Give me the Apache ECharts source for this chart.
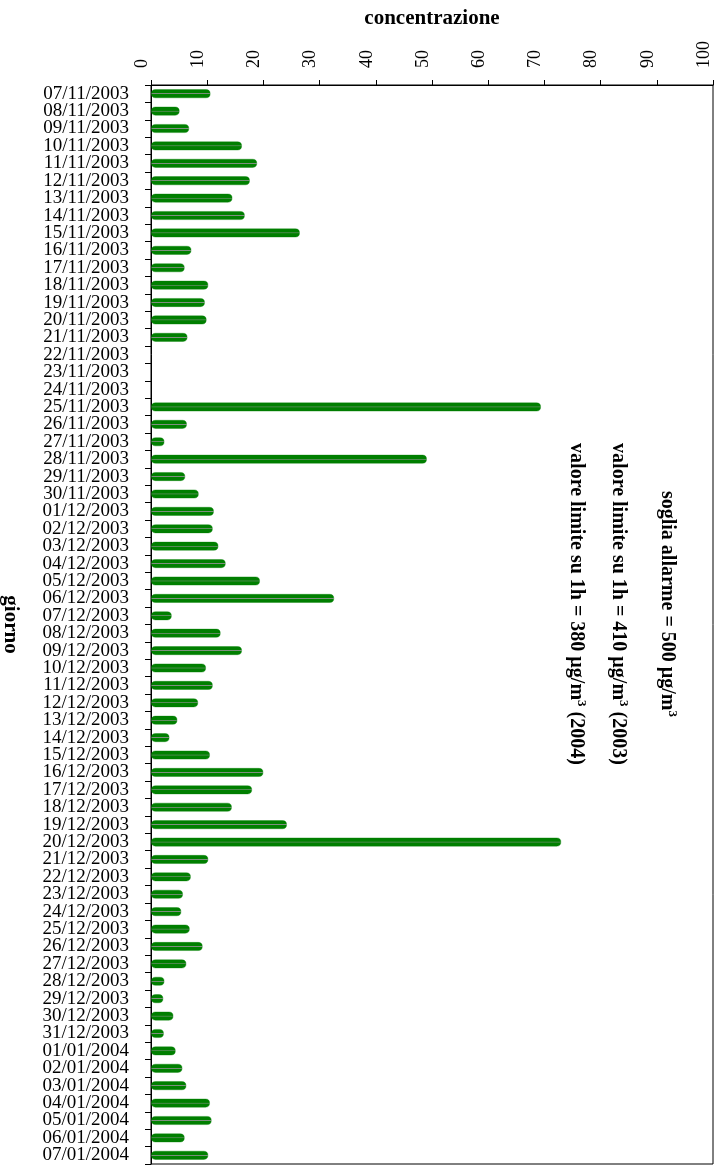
<!DOCTYPE html>
<html>
<head>
<meta charset="utf-8">
<script src="https://cdn.jsdelivr.net/npm/echarts@6/dist/echarts.min.js"></script>
<style>
html,body{margin:0;padding:0;background:#fff;}
#chart{width:725px;height:1169px;}
</style>
</head>
<body>
<div id="chart"></div>
<script>
var categories = [
  '07/11/2003','08/11/2003','09/11/2003','10/11/2003','11/11/2003','12/11/2003','13/11/2003',
  '14/11/2003','15/11/2003','16/11/2003','17/11/2003','18/11/2003','19/11/2003','20/11/2003',
  '21/11/2003','22/11/2003','23/11/2003','24/11/2003','25/11/2003','26/11/2003','27/11/2003',
  '28/11/2003','29/11/2003','30/11/2003','01/12/2003','02/12/2003','03/12/2003','04/12/2003',
  '05/12/2003','06/12/2003','07/12/2003','08/12/2003','09/12/2003','10/12/2003','11/12/2003',
  '12/12/2003','13/12/2003','14/12/2003','15/12/2003','16/12/2003','17/12/2003','18/12/2003',
  '19/12/2003','20/12/2003','21/12/2003','22/12/2003','23/12/2003','24/12/2003','25/12/2003',
  '26/12/2003','27/12/2003','28/12/2003','29/12/2003','30/12/2003','31/12/2003','01/01/2004',
  '02/01/2004','03/01/2004','04/01/2004','05/01/2004','06/01/2004','07/01/2004'
];
var concentrazione = [
  10.6, 5.1, 6.8, 16.2, 18.9, 17.6, 14.5,
  16.7, 26.5, 7.2, 6.0, 10.2, 9.6, 9.9,
  6.5, null, null, null, 69.4, 6.4, 2.4,
  49.1, 6.1, 8.5, 11.2, 11.0, 12.0, 13.3,
  19.4, 32.6, 3.7, 12.4, 16.2, 9.8, 11.0,
  8.4, 4.7, 3.3, 10.5, 20.0, 18.0, 14.4,
  24.2, 73.0, 10.2, 7.1, 5.7, 5.4, 6.9,
  9.2, 6.3, 2.4, 2.2, 4.0, 2.3, 4.4,
  5.6, 6.3, 10.5, 10.8, 6.0, 10.2
];
var valueTicks = { min: 0, max: 100, interval: 10 };
var annotations = [
  ['soglia allarme = 500 µg/m', '3', ''],
  ['valore limite su 1h = 410 µg/m', '3', ' (2003)'],
  ['valore limite su 1h = 380 µg/m', '3', ' (2004)']
];

var serif = '"Liberation Serif", "Times New Roman", Times, serif';
var chart = echarts.init(document.getElementById('chart'), null, { renderer: 'canvas' });

var annotX = [668, 619, 577];
var graphics = annotations.map(function (a, i) {
  return {
    type: 'text',
    x: annotX[i],
    y: 604,
    rotation: -Math.PI / 2,
    style: {
      text: '{n|' + a[0] + '}{s|' + a[1] + '}{n|' + a[2] + '}',
      align: 'center',
      verticalAlign: 'middle',
      rich: {
        n: { fontFamily: serif, fontWeight: 'bold', fontSize: 20, lineHeight: 22, fill: '#000', verticalAlign: 'bottom' },
        s: { fontFamily: serif, fontWeight: 'bold', fontSize: 13, lineHeight: 22, fill: '#000', verticalAlign: 'top' }
      }
    }
  };
});

var option = {
  animation: false,
  backgroundColor: '#fff',
  grid: {
    left: 151, top: 85, right: 12, bottom: 5,
    containLabel: false,
    outerBoundsMode: 'none',
    show: true, borderColor: '#000', borderWidth: 1, backgroundColor: 'transparent'
  },
  xAxis: {
    type: 'value',
    position: 'top',
    min: valueTicks.min, max: valueTicks.max, interval: valueTicks.interval,
    name: 'concentrazione',
    nameLocation: 'middle',
    nameGap: 56,
    nameTextStyle: { fontFamily: serif, fontWeight: 'bold', fontSize: 21, color: '#000' },
    axisLine: { show: true, lineStyle: { color: '#000', width: 1 } },
    axisTick: { show: true, length: 5, lineStyle: { color: '#000' } },
    splitLine: { show: false },
    axisLabel: {
      rotate: -90,
      margin: 17,
      verticalAlign: 'bottom',
      fontFamily: serif, fontSize: 18, color: '#000'
    }
  },
  yAxis: {
    type: 'category',
    data: categories,
    inverse: true,
    name: 'giorno',
    nameLocation: 'middle',
    nameRotate: -90,
    nameGap: 130,
    nameTextStyle: { fontFamily: serif, fontWeight: 'bold', fontSize: 21, color: '#000' },
    axisLine: { show: true, lineStyle: { color: '#000', width: 1 } },
    axisTick: { show: true, length: 6, lineStyle: { color: '#000' } },
    axisLabel: { fontFamily: serif, fontSize: 19, color: '#000', margin: 22, interval: 0 },
    splitLine: { show: false }
  },
  series: [{
    type: 'bar',
    data: concentrazione,
    barWidth: 9,
    itemStyle: {
      borderRadius: 4.5,
      borderColor: 'rgba(0,128,0,0.45)',
      borderWidth: 0.8,
      color: new echarts.graphic.LinearGradient(0, 0, 0, 1, [
        { offset: 0, color: '#007d00' },
        { offset: 0.43, color: '#008000' },
        { offset: 0.48, color: '#7f8f7f' },
        { offset: 0.52, color: '#7f8f7f' },
        { offset: 0.57, color: '#008000' },
        { offset: 1, color: '#007d00' }
      ])
    }
  }],
  graphic: graphics
};
chart.setOption(option);
</script>
</body>
</html>
